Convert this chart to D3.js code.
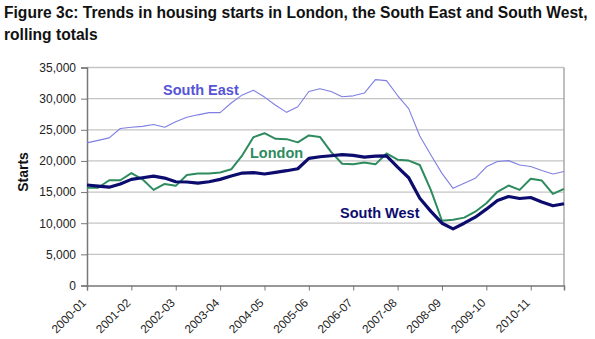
<!DOCTYPE html>
<html><head><meta charset="utf-8">
<script src="https://cdn.jsdelivr.net/npm/d3@7"></script>
<style>body{margin:0;background:#fff}svg{display:block;font-family:"Liberation Sans",Arial,sans-serif}</style>
</head><body><svg id="c" width="595" height="339"></svg>
<script>
const titleLines = ["Figure 3c: Trends in housing starts in London, the South East and South West,", "rolling totals"];
const yLabel = "Starts";
const yTicks = [0,5000,10000,15000,20000,25000,30000,35000];
const xTickLabels = ["2000-01","2001-02","2002-03","2003-04","2004-05","2005-06","2006-07","2007-08","2008-09","2009-10","2010-11"];
const seriesNames = ["South East","London","South West"];
const southEast = [22900,23300,23700,25200,25400,25550,25850,25400,26300,27000,27400,27750,27750,29300,30600,31350,30250,28950,27800,28700,31150,31600,31150,30300,30450,30900,33050,32900,30500,28400,24000,20950,18000,15600,16400,17200,19050,19900,20050,19350,19100,18450,17900,18300];
const london = [15700,15700,16900,16900,18050,17050,15350,16300,16000,17750,18000,18000,18150,18650,20900,23800,24450,23550,23500,22980,24100,23850,21450,19550,19450,19750,19450,21200,20200,20050,19350,15300,10400,10550,10900,11850,13200,15050,16050,15350,17150,16850,14700,15500];
const southWest = [16130,15950,15780,16300,17040,17300,17570,17250,16660,16620,16450,16660,17040,17570,18050,18120,17900,18170,18430,18750,20420,20670,20830,21000,20900,20600,20780,20800,19000,17300,14000,11900,10000,9100,10000,10970,12260,13650,14290,13970,14130,13390,12800,13120];

const svg = d3.select("#c");
const L = 87, R = 564, T = 67.5, B = 285.5;
const n = southEast.length;
const x = d3.scaleLinear().domain([0, n-1]).range([L, R]);
const y = d3.scaleLinear().domain([0, 35000]).range([B, T]);

// title
svg.append("g").selectAll("text").data(titleLines).join("text")
  .attr("x", 4).attr("y", (d,i)=>18 + i*22)
  .attr("font-size", 15.6).attr("font-weight", "bold").attr("fill", "#111")
  .text(d=>d);

// gridlines
svg.append("g").selectAll("line").data(yTicks.filter(d=>d>0)).join("line")
  .attr("x1", L).attr("x2", R).attr("y1", d=>y(d)).attr("y2", d=>y(d))
  .attr("stroke", "#c4c4c4").attr("stroke-width", 1.3);
// right border
svg.append("line").attr("x1", R).attr("x2", R).attr("y1", T).attr("y2", B)
  .attr("stroke", "#a8a8a8").attr("stroke-width", 1.5);

// y axis
const ya = svg.append("g").attr("transform", `translate(${L},0)`)
  .call(d3.axisLeft(y).tickValues(yTicks).tickSize(6).tickPadding(5).tickFormat(d3.format(",")));
ya.select(".domain").attr("stroke", "#777").attr("stroke-width", 1.5);
ya.selectAll(".tick line").attr("stroke", "#777");
ya.selectAll("text").attr("font-size", 12).attr("fill", "#222").attr("font-family", "Liberation Sans, Arial, sans-serif");

// x axis
const xa = svg.append("g").attr("transform", `translate(0,${B})`)
  .call(d3.axisBottom(x).tickValues(d3.range(0, n, 4)).tickSize(5).tickFormat(""));
xa.select(".domain").attr("stroke", "#777").attr("stroke-width", 1.5);
xa.selectAll(".tick line").attr("stroke", "#777");
svg.append("g").selectAll("text").data(xTickLabels).join("text")
  .attr("transform", (d,i)=>`translate(${x(i*4)},${B+18}) rotate(-45)`)
  .attr("text-anchor", "end").attr("font-size", 11.8).attr("fill", "#222")
  .text(d=>d);

// y label
svg.append("text").attr("transform", `translate(28,172) rotate(-90)`)
  .attr("text-anchor", "middle").attr("font-size", 14).attr("font-weight", "bold").attr("fill", "#111")
  .text(yLabel);

// lines
const line = d3.line().x((d,i)=>x(i)).y(d=>y(d));
const series = [
  {name: seriesNames[0], values: southEast, color: "#7f7fe3", w: 1.1, lc: "#5555d5", lx: 163, ly: 95},
  {name: seriesNames[1], values: london, color: "#2e8b5e", w: 2, lc: "#2e8b5e", lx: 250, ly: 158},
  {name: seriesNames[2], values: southWest, color: "#0c0c6e", w: 3.2, lc: "#0c0c6e", lx: 340, ly: 218}
];
svg.append("g").selectAll("path").data(series).join("path")
  .attr("d", d=>line(d.values)).attr("fill", "none")
  .attr("stroke", d=>d.color).attr("stroke-width", d=>d.w).attr("stroke-linejoin", "round");
svg.append("g").selectAll("text").data(series).join("text")
  .attr("x", d=>d.lx).attr("y", d=>d.ly).attr("font-size", 14.5).attr("font-weight", "bold")
  .attr("fill", d=>d.lc).text(d=>d.name);
</script></body></html>
